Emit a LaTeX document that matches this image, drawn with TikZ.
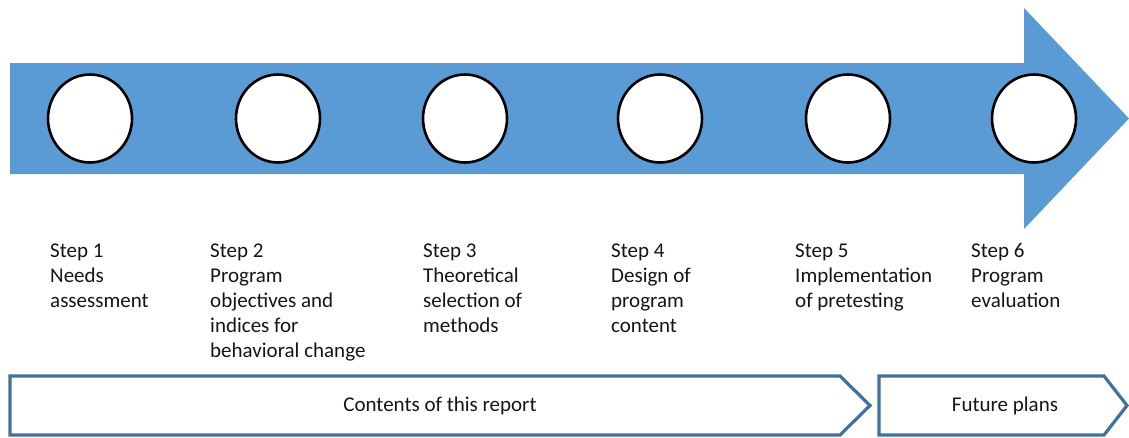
\documentclass[tikz,border=0pt]{standalone}
\usepackage{fontspec}
\setmainfont{Carlito}
\usetikzlibrary{shapes.geometric}
\definecolor{arrowblue}{HTML}{5B9BD5}
\definecolor{frameblue}{HTML}{41719C}
\definecolor{txt}{HTML}{151515}
\begin{document}
\begin{tikzpicture}[x=1pt,y=-1pt,
  stepdot/.style={ellipse,draw=black,fill=white,line width=2.6pt,
    minimum width=84pt,minimum height=88pt,inner sep=0pt},
  steptext/.style={anchor=base west,inner sep=0pt,text=txt,
    font=\fontsize{21}{25}\selectfont},
  phase/.style={draw=frameblue,fill=white,line width=3.2pt,line join=miter},
  phaselabel/.style={text=txt,font=\fontsize{21}{25}\selectfont,inner sep=0pt}]
\useasboundingbox (0,0) rectangle (1129,437);

% main process arrow
\fill[arrowblue] (10,63) -- (1024,63) -- (1024,8) -- (1129,118.5)
  -- (1024,229) -- (1024,174) -- (10,174) -- cycle;

% step markers
\foreach \n/\x in {1/90,2/278,3/465,4/660,5/848,6/1034}
  \node[stepdot] (dot\n) at (\x,118.5) {};

% step descriptions
\node[steptext] (s1) at (50,257) {\parbox[t]{150pt}{\raggedright Step 1\\Needs\\assessment}};
\node[steptext] (s2) at (210,257) {\parbox[t]{200pt}{\raggedright Step 2\\Program\\objectives and\\indices for\\behavioral change}};
\node[steptext] (s3) at (423,257) {\parbox[t]{150pt}{\raggedright Step 3\\Theoretical\\selection of\\methods}};
\node[steptext] (s4) at (611,257) {\parbox[t]{150pt}{\raggedright Step 4\\Design of\\program\\content}};
\node[steptext] (s5) at (795,257) {\parbox[t]{170pt}{\raggedright Step 5\\Implementation\\of pretesting}};
\node[steptext] (s6) at (971,257) {\parbox[t]{150pt}{\raggedright Step 6\\Program\\evaluation}};

% phase chevrons
\draw[phase] (10,376) -- (840,376) -- (870,405.5) -- (840,435) -- (10,435) -- cycle;
\draw[phase] (879,376) -- (1104,376) -- (1127,405.5) -- (1104,435) -- (879,435) -- cycle;
\node[phaselabel] (p1) at (440,406) {Contents of this report};
\node[phaselabel] (p2) at (1005,406) {Future plans};
\end{tikzpicture}
\end{document}
